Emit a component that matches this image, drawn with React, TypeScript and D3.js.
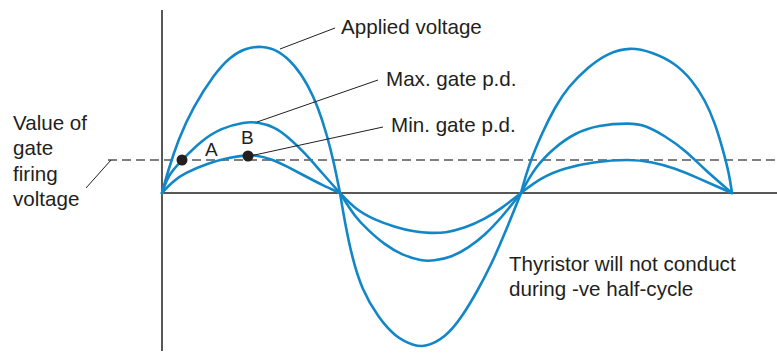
import React from "react";
import * as d3 from "d3";

// time units (t) and voltage units (v)
const appliedT = [0, 6, 16, 31, 53, 68, 83, 100, 116, 133, 146, 156, 165, 172, 178, 183, 190, 200, 216, 233, 253, 263, 283, 300, 316, 330, 343, 359, 366, 380, 393, 406, 426, 446, 468, 490, 513, 530, 543, 553, 561, 567, 570];
const appliedV = [0, 22, 53, 86, 120, 136, 145, 147, 143, 128, 108, 86, 58, 30, 0, -30, -64, -97, -124, -144, -153, -154, -145, -124, -97, -70, -40, 0, 26, 60, 86, 106, 126, 140, 146, 141, 130, 113, 93, 70, 43, 20, 0];

const maxGateT = [0, 6, 20, 39, 59, 83, 95, 113, 126, 143, 160, 178, 193, 206, 223, 240, 260, 271, 290, 306, 323, 340, 359, 373, 393, 413, 436, 468, 483, 503, 523, 543, 570];
const maxGateV = [0, 18, 33, 52, 65, 71, 71, 66, 56, 40, 20, 0, -24, -37, -52, -62, -68, -68, -64, -55, -42, -24, 0, 26, 46, 60, 68, 70, 68, 57, 43, 23, 0];

const minGateT = [0, 11, 23, 46, 69, 86, 93, 110, 126, 143, 160, 178, 193, 213, 233, 253, 268, 283, 303, 323, 340, 359, 380, 403, 430, 468, 490, 513, 536, 556, 570];
const minGateV = [0, 12, 20, 30, 36, 38, 38, 34, 26, 17, 8, 0, -16, -27, -34, -39, -40, -40, -35, -26, -15, 0, 16, 25, 31, 34, 31, 25, 15, 6, 0];

const gateFiringV = 33;
const pointA = { t: 20, v: 33, label: "A" };
const pointB = { t: 86, v: 37, label: "B" };

const seriesLabels = ["Applied voltage", "Max. gate p.d.", "Min. gate p.d."];
const leftLabel = ["Value of", "gate", "firing", "voltage"];
const noteLines = ["Thyristor will not conduct", "during -ve half-cycle"];

const W = 777;
const H = 353;
const BLUE = "#1287c8";
const INK = "#231f20";
const FONT = "'Liberation Sans', Arial, Helvetica, sans-serif";

function halfCycles(t: number[], v: number[]): [number, number][][] {
  const segs: [number, number][][] = [];
  let cur: [number, number][] = [];
  t.forEach((tt, i) => {
    cur.push([tt, v[i]]);
    if (v[i] === 0 && i > 0) {
      segs.push(cur);
      cur = [[tt, v[i]]];
    }
  });
  return segs;
}

export default function App() {
  const x = d3.scaleLinear().domain([0, 615]).range([162, 777]);
  const y = d3.scaleLinear().domain([-160, 183]).range([353, 10]);

  const line = d3
    .line<[number, number]>()
    .x((d) => x(d[0]))
    .y((d) => y(d[1]))
    .curve(d3.curveBasis);

  const series = [
    halfCycles(appliedT, appliedV),
    halfCycles(maxGateT, maxGateV),
    halfCycles(minGateT, minGateV),
  ];

  const fs = 20.6;

  return (
    <svg
      width={W}
      height={H}
      style={{ position: "fixed", left: 0, top: 0, background: "#fff" }}
      fontFamily={FONT}
    >
      {/* axes */}
      <line x1={x(0)} x2={x(0)} y1={y(183)} y2={y(-158)} stroke={INK} strokeWidth={1.5} />
      <line x1={x(0)} x2={x(615)} y1={y(0)} y2={y(0)} stroke={INK} strokeWidth={1.5} />

      {/* gate firing threshold */}
      <line
        x1={x(-54)}
        x2={x(615)}
        y1={y(gateFiringV)}
        y2={y(gateFiringV)}
        stroke="#555"
        strokeWidth={1.5}
        strokeDasharray="9 5"
      />

      {/* curves */}
      {series.map((segs, i) =>
        segs.map((s, j) => (
          <path key={`${i}-${j}`} d={line(s) || ""} fill="none" stroke={BLUE} strokeWidth={2.6} strokeLinejoin="round" strokeLinecap="round" />
        ))
      )}

      {/* leader lines */}
      <line x1={280} y1={49} x2={335} y2={28} stroke={INK} strokeWidth={1} />
      <line x1={257} y1={122} x2={378} y2={80} stroke={INK} strokeWidth={1} />
      <line x1={250} y1={156} x2={383} y2={127} stroke={INK} strokeWidth={1} />
      <line x1={111} y1={160} x2={86} y2={188} stroke={INK} strokeWidth={1} />

      {/* points */}
      <circle cx={x(pointA.t)} cy={y(pointA.v)} r={5.5} fill={INK} />
      <circle cx={x(pointB.t)} cy={y(pointB.v)} r={5.5} fill={INK} />
      <text x={205} y={156} fontSize={19} fill={INK}>{pointA.label}</text>
      <text x={241} y={144} fontSize={19} fill={INK}>{pointB.label}</text>

      {/* labels */}
      <text x={341} y={34} fontSize={fs} fill={INK}>{seriesLabels[0]}</text>
      <text x={386} y={86} fontSize={fs} fill={INK}>{seriesLabels[1]}</text>
      <text x={391} y={132} fontSize={fs} fill={INK}>{seriesLabels[2]}</text>

      {leftLabel.map((t, i) => (
        <text key={t} x={13} y={130 + i * 25.3} fontSize={fs} fill={INK}>{t}</text>
      ))}
      {noteLines.map((t, i) => (
        <text key={t} x={509} y={271 + i * 24.5} fontSize={fs} fill={INK}>{t}</text>
      ))}
    </svg>
  );
}
